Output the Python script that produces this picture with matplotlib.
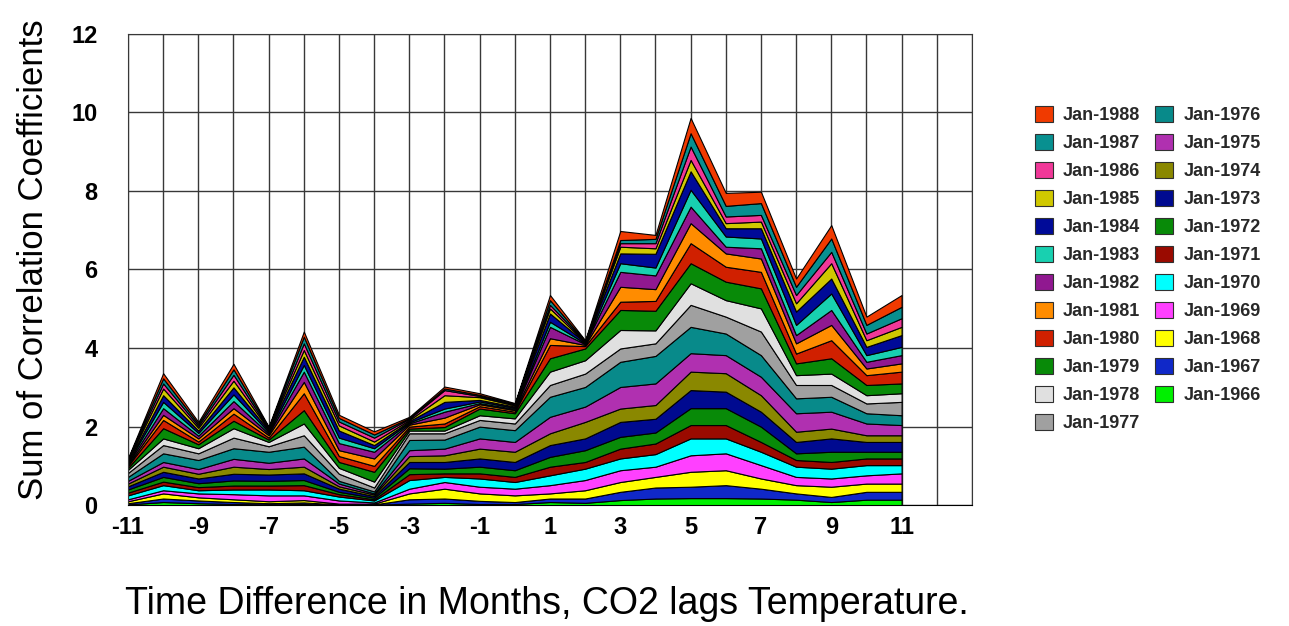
import numpy as np
import matplotlib.pyplot as plt
from matplotlib.patches import Patch
from matplotlib.ticker import MultipleLocator

plt.rcParams['font.family'] = ['Liberation Sans', 'DejaVu Sans']
plt.rcParams['axes.unicode_minus'] = False

# lag in months (CO2 behind temperature)
lags = np.arange(-11, 12)

years = ['Jan-1966', 'Jan-1967', 'Jan-1968', 'Jan-1969', 'Jan-1970', 'Jan-1971',
         'Jan-1972', 'Jan-1973', 'Jan-1974', 'Jan-1975', 'Jan-1976', 'Jan-1977',
         'Jan-1978', 'Jan-1979', 'Jan-1980', 'Jan-1981', 'Jan-1982', 'Jan-1983',
         'Jan-1984', 'Jan-1985', 'Jan-1986', 'Jan-1987', 'Jan-1988']

# correlation coefficient per start year, one value per lag
c1966 = [0.02, 0.08, 0.05, 0.03, 0.02, 0.03, 0.01, 0.01, 0.04, 0.06, 0.03, 0.03, 0.08, 0.06, 0.13, 0.17, 0.18, 0.18, 0.17, 0.14, 0.08, 0.14, 0.14]
c1967 = [0.03, 0.09, 0.07, 0.05, 0.03, 0.04, 0.01, 0.01, 0.11, 0.11, 0.08, 0.05, 0.09, 0.11, 0.21, 0.28, 0.29, 0.33, 0.25, 0.16, 0.13, 0.20, 0.20]
c1968 = [0.05, 0.13, 0.08, 0.07, 0.05, 0.06, 0.02, 0.02, 0.15, 0.25, 0.19, 0.17, 0.13, 0.21, 0.25, 0.27, 0.38, 0.38, 0.26, 0.21, 0.26, 0.21, 0.21]
c1969 = [0.05, 0.08, 0.10, 0.13, 0.15, 0.12, 0.08, 0.03, 0.12, 0.17, 0.17, 0.17, 0.21, 0.26, 0.30, 0.26, 0.42, 0.43, 0.34, 0.21, 0.21, 0.21, 0.26]
c1970 = [0.10, 0.13, 0.08, 0.12, 0.15, 0.13, 0.10, 0.05, 0.22, 0.13, 0.21, 0.17, 0.25, 0.29, 0.30, 0.32, 0.43, 0.38, 0.34, 0.26, 0.25, 0.26, 0.21]
c1971 = [0.07, 0.09, 0.08, 0.10, 0.10, 0.13, 0.06, 0.03, 0.15, 0.09, 0.13, 0.13, 0.22, 0.17, 0.25, 0.27, 0.34, 0.34, 0.25, 0.17, 0.17, 0.17, 0.17]
c1972 = [0.08, 0.12, 0.10, 0.13, 0.12, 0.13, 0.06, 0.04, 0.15, 0.12, 0.17, 0.17, 0.25, 0.30, 0.30, 0.28, 0.43, 0.43, 0.39, 0.17, 0.26, 0.17, 0.17]
c1973 = [0.08, 0.13, 0.12, 0.17, 0.16, 0.17, 0.08, 0.04, 0.16, 0.17, 0.21, 0.21, 0.30, 0.30, 0.38, 0.35, 0.46, 0.42, 0.38, 0.29, 0.34, 0.25, 0.25]
c1974 = [0.07, 0.13, 0.12, 0.18, 0.14, 0.17, 0.06, 0.04, 0.15, 0.17, 0.25, 0.26, 0.30, 0.42, 0.34, 0.35, 0.47, 0.47, 0.42, 0.26, 0.25, 0.17, 0.17]
c1975 = [0.07, 0.12, 0.12, 0.20, 0.16, 0.21, 0.07, 0.03, 0.15, 0.17, 0.26, 0.25, 0.42, 0.39, 0.55, 0.55, 0.47, 0.46, 0.47, 0.47, 0.43, 0.30, 0.26]
c1976 = [0.10, 0.22, 0.23, 0.27, 0.28, 0.30, 0.07, 0.05, 0.26, 0.23, 0.30, 0.30, 0.51, 0.50, 0.64, 0.70, 0.67, 0.55, 0.55, 0.38, 0.38, 0.26, 0.25]
c1977 = [0.10, 0.21, 0.17, 0.27, 0.14, 0.29, 0.18, 0.10, 0.17, 0.16, 0.17, 0.17, 0.30, 0.34, 0.34, 0.32, 0.56, 0.43, 0.60, 0.34, 0.30, 0.25, 0.34]
c1978 = [0.08, 0.17, 0.13, 0.24, 0.11, 0.30, 0.15, 0.15, 0.07, 0.07, 0.12, 0.13, 0.34, 0.34, 0.47, 0.33, 0.55, 0.42, 0.59, 0.25, 0.29, 0.21, 0.22]
c1979 = [0.05, 0.26, 0.10, 0.19, 0.06, 0.34, 0.15, 0.25, 0.05, 0.09, 0.17, 0.13, 0.34, 0.30, 0.51, 0.50, 0.51, 0.47, 0.51, 0.30, 0.39, 0.26, 0.25]
c1980 = [0.05, 0.21, 0.07, 0.18, 0.05, 0.43, 0.15, 0.15, 0.05, 0.09, 0.06, 0.04, 0.34, 0.06, 0.21, 0.25, 0.51, 0.38, 0.42, 0.25, 0.46, 0.25, 0.30]
c1981 = [0.03, 0.13, 0.08, 0.14, 0.06, 0.29, 0.15, 0.19, 0.05, 0.15, 0.05, 0.04, 0.17, 0.03, 0.38, 0.30, 0.51, 0.34, 0.34, 0.26, 0.39, 0.17, 0.21]
c1982 = [0.03, 0.17, 0.07, 0.18, 0.04, 0.26, 0.18, 0.17, 0.03, 0.15, 0.03, 0.03, 0.29, 0.02, 0.38, 0.35, 0.42, 0.17, 0.26, 0.21, 0.38, 0.17, 0.21]
c1983 = [0.03, 0.16, 0.07, 0.17, 0.04, 0.17, 0.14, 0.09, 0.03, 0.08, 0.04, 0.03, 0.13, 0.02, 0.22, 0.20, 0.43, 0.26, 0.25, 0.26, 0.42, 0.17, 0.21]
c1984 = [0.02, 0.17, 0.06, 0.18, 0.04, 0.21, 0.18, 0.08, 0.03, 0.17, 0.04, 0.03, 0.21, 0.02, 0.25, 0.35, 0.47, 0.21, 0.26, 0.34, 0.38, 0.21, 0.30]
c1985 = [0.03, 0.17, 0.07, 0.17, 0.03, 0.17, 0.13, 0.09, 0.03, 0.17, 0.07, 0.03, 0.13, 0.01, 0.17, 0.14, 0.29, 0.13, 0.17, 0.21, 0.39, 0.17, 0.21]
c1986 = [0.02, 0.13, 0.05, 0.15, 0.02, 0.17, 0.10, 0.10, 0.03, 0.13, 0.03, 0.02, 0.09, 0.02, 0.09, 0.13, 0.34, 0.17, 0.17, 0.21, 0.29, 0.17, 0.22]
c1987 = [0.02, 0.13, 0.05, 0.14, 0.03, 0.17, 0.09, 0.08, 0.02, 0.04, 0.03, 0.02, 0.12, 0.01, 0.08, 0.11, 0.34, 0.27, 0.30, 0.21, 0.34, 0.22, 0.29]
c1988 = [0.02, 0.13, 0.05, 0.14, 0.02, 0.13, 0.08, 0.08, 0.03, 0.05, 0.04, 0.02, 0.13, 0.02, 0.23, 0.10, 0.39, 0.33, 0.29, 0.21, 0.34, 0.21, 0.30]

series = [c1966, c1967, c1968, c1969, c1970, c1971, c1972, c1973, c1974, c1975,
          c1976, c1977, c1978, c1979, c1980, c1981, c1982, c1983, c1984, c1985,
          c1986, c1987, c1988]

colors = ['#00f000', '#1028c8', '#ffff00', '#ff40ff', '#00ffff', '#9a0a00',
          '#088a08', '#000a90', '#8a8800', '#b030b0', '#088a8a', '#a0a0a0',
          '#e0e0e0', '#088a08', '#d02000', '#ff8c00', '#901890', '#18d0b0',
          '#000a98', '#d0c800', '#f03898', '#089090', '#f03a00']

fig = plt.figure(figsize=(12.89, 6.26), dpi=100)
ax = fig.add_axes([0.0993, 0.193, 0.6547, 0.753])

ax.stackplot(lags, *series, colors=colors, edgecolor='black', linewidth=0.8, zorder=2)

ax.set_xlim(-11, 13)
ax.set_ylim(0, 12)
ax.xaxis.set_minor_locator(MultipleLocator(1))
ax.yaxis.set_major_locator(MultipleLocator(2))
ax.set_xticks(np.arange(-11, 12, 2))
ax.grid(True, which='both', axis='x', color='#383838', linewidth=1.0, zorder=0)
ax.grid(True, which='major', axis='y', color='#383838', linewidth=1.0, zorder=0)
ax.set_axisbelow(True)
ax.tick_params(which='both', length=0)
ax.tick_params(axis='x', pad=8)
ax.tick_params(axis='y', pad=22)
for lab in ax.get_xticklabels() + ax.get_yticklabels():
    lab.set_fontweight('bold')
    lab.set_fontsize(17)
for side in ['top', 'right', 'left']:
    ax.spines[side].set_color('#383838')
ax.spines['bottom'].set_color('black')

ax.set_ylabel('Sum of Correlation Coefficients', fontsize=25)
ax.yaxis.set_label_coords(-0.092, 0.52)
ax.set_xlabel('Time Difference in Months, CO2 lags Temperature.', fontsize=27)
ax.xaxis.set_label_coords(0.496, -0.172)

handles = [Patch(facecolor=c, edgecolor='#303030', linewidth=0.8) for c in colors]
leg = fig.legend(handles[::-1], years[::-1], ncol=2, loc='upper left',
                 bbox_to_anchor=(0.797, 0.843), frameon=False,
                 prop={'size': 13, 'weight': 'bold'},
                 handlelength=1.0, handleheight=1.0, handletextpad=0.55,
                 labelspacing=0.54, columnspacing=0.85, borderaxespad=0)
for t in leg.get_texts():
    t.set_color('#282828')

fig.savefig('out.png', dpi=100)
